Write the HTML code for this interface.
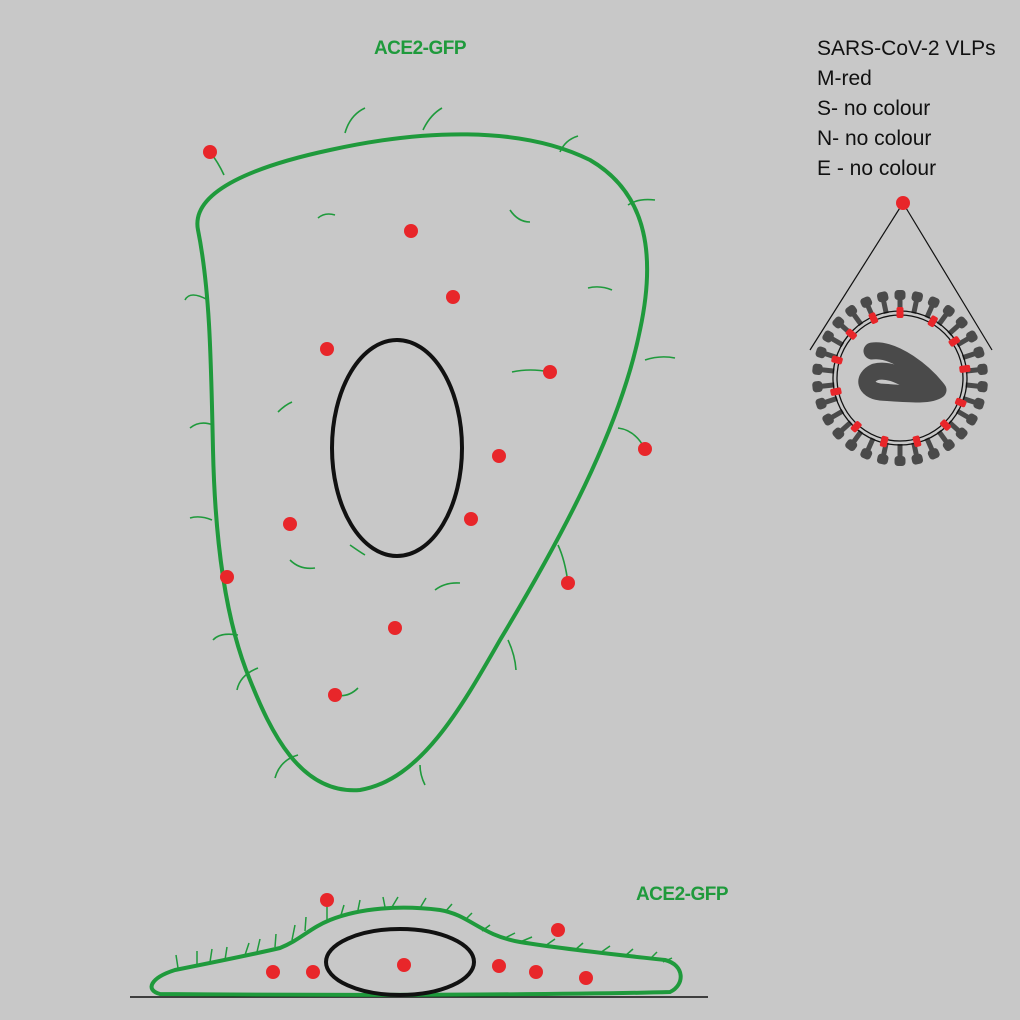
<!DOCTYPE html>
<html><head><meta charset="utf-8"><style>
html,body{margin:0;padding:0;background:#c8c8c8}
svg{display:block}
</style></head><body>
<svg width="1020" height="1020" viewBox="0 0 1020 1020" xmlns="http://www.w3.org/2000/svg">
<defs>
<g id="s"><rect x="-2.5" y="-80" width="5" height="14"/><rect x="-5.5" y="-88" width="11" height="10" rx="3.5"/></g>
<g id="m"><rect x="-3.5" y="-71" width="7" height="11" rx="2"/></g>
</defs>
<rect width="1020" height="1020" fill="#c8c8c8"/>
<text x="420" y="54" font-family="Liberation Sans, sans-serif" font-weight="bold" font-size="19" fill="#1f9a3c" text-anchor="middle" letter-spacing="-0.5">ACE2-GFP</text>
<text x="682" y="900" font-family="Liberation Sans, sans-serif" font-weight="bold" font-size="19" fill="#1f9a3c" text-anchor="middle" letter-spacing="-0.5">ACE2-GFP</text>
<g font-family="Liberation Sans, sans-serif" font-size="21" fill="#111">
<text x="817" y="55">SARS-CoV-2 VLPs</text>
<text x="817" y="85">M-red</text>
<text x="817" y="115">S- no colour</text>
<text x="817" y="145">N- no colour</text>
<text x="817" y="175">E - no colour</text>
</g>
<!-- main cell -->
<path d="M198,230 C190,190 260,165 330,150 C420,130 520,125 590,160 C650,195 655,260 640,330 C620,430 560,540 500,640 C460,710 420,780 360,790 C300,795 270,730 250,680 C225,620 215,540 213,450 C211,360 210,290 198,230 Z" fill="none" stroke="#1f9a3c" stroke-width="4"/>
<ellipse cx="397" cy="448" rx="65" ry="108" fill="none" stroke="#111" stroke-width="4"/>
<g fill="none" stroke="#1f9a3c" stroke-width="1.6">
<path d="M345,133 Q350,115 365,108"/><path d="M423,130 Q430,115 442,108"/><path d="M560,152 Q565,140 578,136"/>
<path d="M628,205 Q638,198 655,200"/><path d="M645,360 Q660,355 675,358"/><path d="M618,428 Q635,430 645,449"/>
<path d="M558,545 Q565,560 568,583"/><path d="M508,640 Q515,655 516,670"/><path d="M420,765 Q420,775 425,785"/>
<path d="M275,778 Q280,760 298,755"/><path d="M237,690 Q240,675 258,668"/><path d="M213,640 Q220,632 238,635"/>
<path d="M212,520 Q200,515 190,518"/><path d="M213,425 Q200,420 190,428"/><path d="M208,300 Q190,290 185,300"/>
<path d="M224,175 Q218,162 210,152"/><path d="M318,218 Q325,212 335,215"/><path d="M510,210 Q518,222 530,222"/>
<path d="M588,288 Q600,285 612,290"/><path d="M512,372 Q530,368 550,372"/><path d="M278,412 Q285,405 292,402"/>
<path d="M290,560 Q300,570 315,568"/><path d="M435,590 Q445,582 460,583"/><path d="M335,695 Q348,698 358,688"/>
<path d="M350,545 Q360,552 365,555"/>
</g>
<g fill="#e8262a">
<circle cx="210" cy="152" r="7"/><circle cx="411" cy="231" r="7"/><circle cx="453" cy="297" r="7"/>
<circle cx="327" cy="349" r="7"/><circle cx="550" cy="372" r="7"/><circle cx="645" cy="449" r="7"/>
<circle cx="499" cy="456" r="7"/><circle cx="471" cy="519" r="7"/><circle cx="290" cy="524" r="7"/>
<circle cx="227" cy="577" r="7"/><circle cx="568" cy="583" r="7"/><circle cx="395" cy="628" r="7"/>
<circle cx="335" cy="695" r="7"/>
</g>
<!-- virus -->
<line x1="903" y1="203" x2="810" y2="350" stroke="#111" stroke-width="1.2"/>
<line x1="903" y1="203" x2="992" y2="350" stroke="#111" stroke-width="1.2"/>
<circle cx="903" cy="203" r="7" fill="#e8262a"/>
<g transform="translate(900,378)">
<g fill="#4a4a4a">
<use href="#s" transform="rotate(0)"/><use href="#s" transform="rotate(12)"/><use href="#s" transform="rotate(24)"/><use href="#s" transform="rotate(36)"/><use href="#s" transform="rotate(48)"/><use href="#s" transform="rotate(60)"/><use href="#s" transform="rotate(72)"/><use href="#s" transform="rotate(84)"/><use href="#s" transform="rotate(96)"/><use href="#s" transform="rotate(108)"/><use href="#s" transform="rotate(120)"/><use href="#s" transform="rotate(132)"/><use href="#s" transform="rotate(144)"/><use href="#s" transform="rotate(156)"/><use href="#s" transform="rotate(168)"/><use href="#s" transform="rotate(180)"/><use href="#s" transform="rotate(192)"/><use href="#s" transform="rotate(204)"/><use href="#s" transform="rotate(216)"/><use href="#s" transform="rotate(228)"/><use href="#s" transform="rotate(240)"/><use href="#s" transform="rotate(252)"/><use href="#s" transform="rotate(264)"/><use href="#s" transform="rotate(276)"/><use href="#s" transform="rotate(288)"/><use href="#s" transform="rotate(300)"/><use href="#s" transform="rotate(312)"/><use href="#s" transform="rotate(324)"/><use href="#s" transform="rotate(336)"/><use href="#s" transform="rotate(348)"/>
</g>
<circle r="67" fill="none" stroke="#111" stroke-width="1.3"/>
<circle r="63" fill="none" stroke="#111" stroke-width="1.3"/>
<g fill="#e8262a">
<use href="#m" transform="rotate(0)"/><use href="#m" transform="rotate(30)"/><use href="#m" transform="rotate(56)"/><use href="#m" transform="rotate(82)"/><use href="#m" transform="rotate(112)"/><use href="#m" transform="rotate(136)"/><use href="#m" transform="rotate(165)"/><use href="#m" transform="rotate(194)"/><use href="#m" transform="rotate(222)"/><use href="#m" transform="rotate(258)"/><use href="#m" transform="rotate(286)"/><use href="#m" transform="rotate(312)"/><use href="#m" transform="rotate(336)"/>
</g>
<path d="M-28,-27 C-5,-30 25,-5 38,12 C30,18 10,16 -20,14 C-35,12 -38,0 -25,-6 C-10,-10 5,0 20,8" fill="none" stroke="#4a4a4a" stroke-width="17" stroke-linejoin="round" stroke-linecap="round"/>
</g>
<!-- bottom cell -->
<line x1="130" y1="997" x2="708" y2="997" stroke="#111" stroke-width="1.5"/>
<path d="M160,994 C145,990 150,978 175,970 C215,962 250,955 280,948 C300,940 310,928 330,920 C360,908 400,905 440,910 C470,915 480,935 520,942 C570,950 620,955 665,960 C685,965 685,985 670,992 C600,994 400,996 160,994 Z" fill="none" stroke="#1f9a3c" stroke-width="4"/>
<ellipse cx="400" cy="962" rx="74" ry="33" fill="none" stroke="#111" stroke-width="4"/>
<g stroke="#1f9a3c" stroke-width="1.5" fill="none">
<path d="M178,968 L176,955"/><path d="M197,964 L197,951"/><path d="M210,962 L212,949"/><path d="M225,960 L227,947"/><path d="M245,955 L249,943"/><path d="M257,952 L260,939"/><path d="M275,947 L276,934"/>
<path d="M292,940 L295,925"/><path d="M305,931 L306,917"/><path d="M327,920 L327,905"/><path d="M341,915 L344,905"/><path d="M358,910 L360,900"/><path d="M385,907 L383,897"/><path d="M392,907 L398,897"/>
<path d="M420,908 L426,898"/><path d="M445,912 L452,904"/><path d="M465,920 L472,913"/><path d="M482,931 L490,925"/><path d="M505,938 L515,933"/><path d="M520,942 L532,937"/><path d="M545,946 L555,939"/>
<path d="M575,950 L583,943"/><path d="M600,953 L610,946"/><path d="M625,956 L633,949"/><path d="M650,959 L657,952"/><path d="M663,962 L672,958"/>
</g>
<g fill="#e8262a">
<circle cx="327" cy="900" r="7"/><circle cx="558" cy="930" r="7"/><circle cx="273" cy="972" r="7"/><circle cx="313" cy="972" r="7"/>
<circle cx="404" cy="965" r="7"/><circle cx="499" cy="966" r="7"/><circle cx="536" cy="972" r="7"/><circle cx="586" cy="978" r="7"/>
</g>
</svg>
</body></html>
